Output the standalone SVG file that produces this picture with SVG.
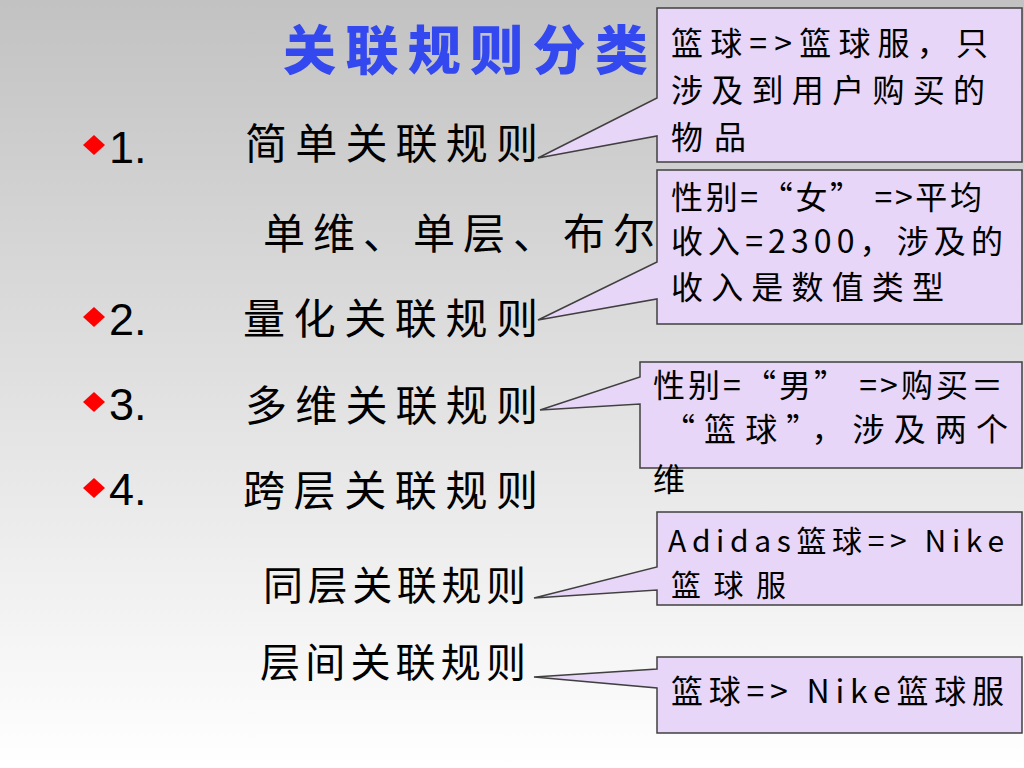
<svg xmlns="http://www.w3.org/2000/svg" width="1024" height="768" viewBox="0 0 1024 768">
  <defs>
    <linearGradient id="bg" x1="0" y1="0" x2="0" y2="1">
      <stop offset="0" stop-color="#c2c2c2"/>
      <stop offset="1" stop-color="#ffffff"/>
    </linearGradient>
  </defs>
  <style>
    .title { font-family: "Noto Sans CJK SC", "Liberation Sans", sans-serif; font-size: 53px; font-weight: 900; fill: #3348ee; }
    .item { font-family: "Noto Sans CJK SC", "Liberation Sans", sans-serif; font-size: 42px; fill: #000; }
    .sub { font-family: "Noto Sans CJK SC", "Liberation Sans", sans-serif; font-size: 40px; fill: #000; }
    .num { font-family: "Liberation Sans", Arial, sans-serif; font-size: 45px; fill: #000; }
    .bullet { fill: #ff0000; }
    .box { fill: #e7d6f7; stroke: #404040; stroke-width: 1.5; stroke-linejoin: miter; }
    .ct { font-family: "Noto Sans CJK SC", "Liberation Sans", sans-serif; font-size: 32px; fill: #000; }
    .ct4 { font-family: "Noto Sans CJK SC", "Liberation Sans", sans-serif; font-size: 30px; fill: #000; }
  </style>

  <rect x="0" y="0" width="1024" height="768" fill="url(#bg)"/>

  <g id="title">
    <text class="title" x="283" y="70" textLength="365" lengthAdjust="spacing">关联规则分类</text>
  </g>

  <g id="item1">
    <polygon class="bullet" points="83,145 94,135 105,145 94,155"/>
    <text class="num" x="109" y="163">1.</text>
    <text class="item" x="245" y="159" textLength="293" lengthAdjust="spacing">简单关联规则</text>
  </g>
  <g id="item1-desc">
    <text class="item" x="263" y="249" textLength="392" lengthAdjust="spacing">单维、单层、布尔</text>
  </g>
  <g id="item2">
    <polygon class="bullet" points="83,317 94,307 105,317 94,327"/>
    <text class="num" x="109" y="335">2.</text>
    <text class="item" x="243" y="334" textLength="295" lengthAdjust="spacing">量化关联规则</text>
  </g>
  <g id="item3">
    <polygon class="bullet" points="83,402 94,392 105,402 94,412"/>
    <text class="num" x="109" y="420">3.</text>
    <text class="item" x="245" y="421" textLength="293" lengthAdjust="spacing">多维关联规则</text>
  </g>
  <g id="item4">
    <polygon class="bullet" points="83,488 94,478 105,488 94,498"/>
    <text class="num" x="109" y="505">4.</text>
    <text class="item" x="243" y="506" textLength="295" lengthAdjust="spacing">跨层关联规则</text>
  </g>
  <g id="item4a">
    <text class="sub" x="263" y="600" textLength="263" lengthAdjust="spacing">同层关联规则</text>
  </g>
  <g id="item4b">
    <text class="sub" x="260" y="677" textLength="266" lengthAdjust="spacing">层间关联规则</text>
  </g>

  <g id="connectors">
    <g id="callout1">
      <path class="box" d="M657,8 H1022 V162 H657 V136 L538,158 L657,98 Z"/>
      <text class="ct" x="671" y="55" textLength="317" lengthAdjust="spacing">篮球=&gt;篮球服，只</text>
      <text class="ct" x="671" y="102" textLength="314" lengthAdjust="spacing">涉及到用户购买的</text>
      <text class="ct" x="671" y="149" textLength="75" lengthAdjust="spacing">物品</text>
    </g>
    <g id="callout2">
      <path class="box" d="M657,170 H1022 V324 H657 V299 L538,320 L657,262 Z"/>
      <text class="ct" x="671" y="209" textLength="311" lengthAdjust="spacing">性别=“女” =&gt;平均</text>
      <text class="ct" x="671" y="253" textLength="332" lengthAdjust="spacing">收入=2300，涉及的</text>
      <text class="ct" x="671" y="299" textLength="273" lengthAdjust="spacing">收入是数值类型</text>
    </g>
    <g id="callout3">
      <path class="box" d="M640,362 H1022 V468 H640 V404 L540,410 L640,377 Z"/>
      <text class="ct" x="653" y="397" textLength="350" lengthAdjust="spacing">性别=“男” =&gt;购买＝</text>
      <text class="ct" x="663" y="441" textLength="345" lengthAdjust="spacing">“篮球”，涉及两个</text>
      <text class="ct" x="653" y="491">维</text>
    </g>
    <g id="callout4">
      <path class="box" d="M657,512 H1022 V605 H657 V590 L534,598 L657,567 Z"/>
      <text class="ct4" x="668" y="552" textLength="336" lengthAdjust="spacing">Adidas篮球=&gt; Nike</text>
      <text class="ct4" x="671" y="596" textLength="115" lengthAdjust="spacing">篮球服</text>
    </g>
    <g id="callout5">
      <path class="box" d="M657,657 H1022 V733 H657 V688 L534,677 L657,669 Z"/>
      <text class="ct" x="671" y="703" textLength="333" lengthAdjust="spacing">篮球=&gt; Nike篮球服</text>
    </g>
  </g>
</svg>
